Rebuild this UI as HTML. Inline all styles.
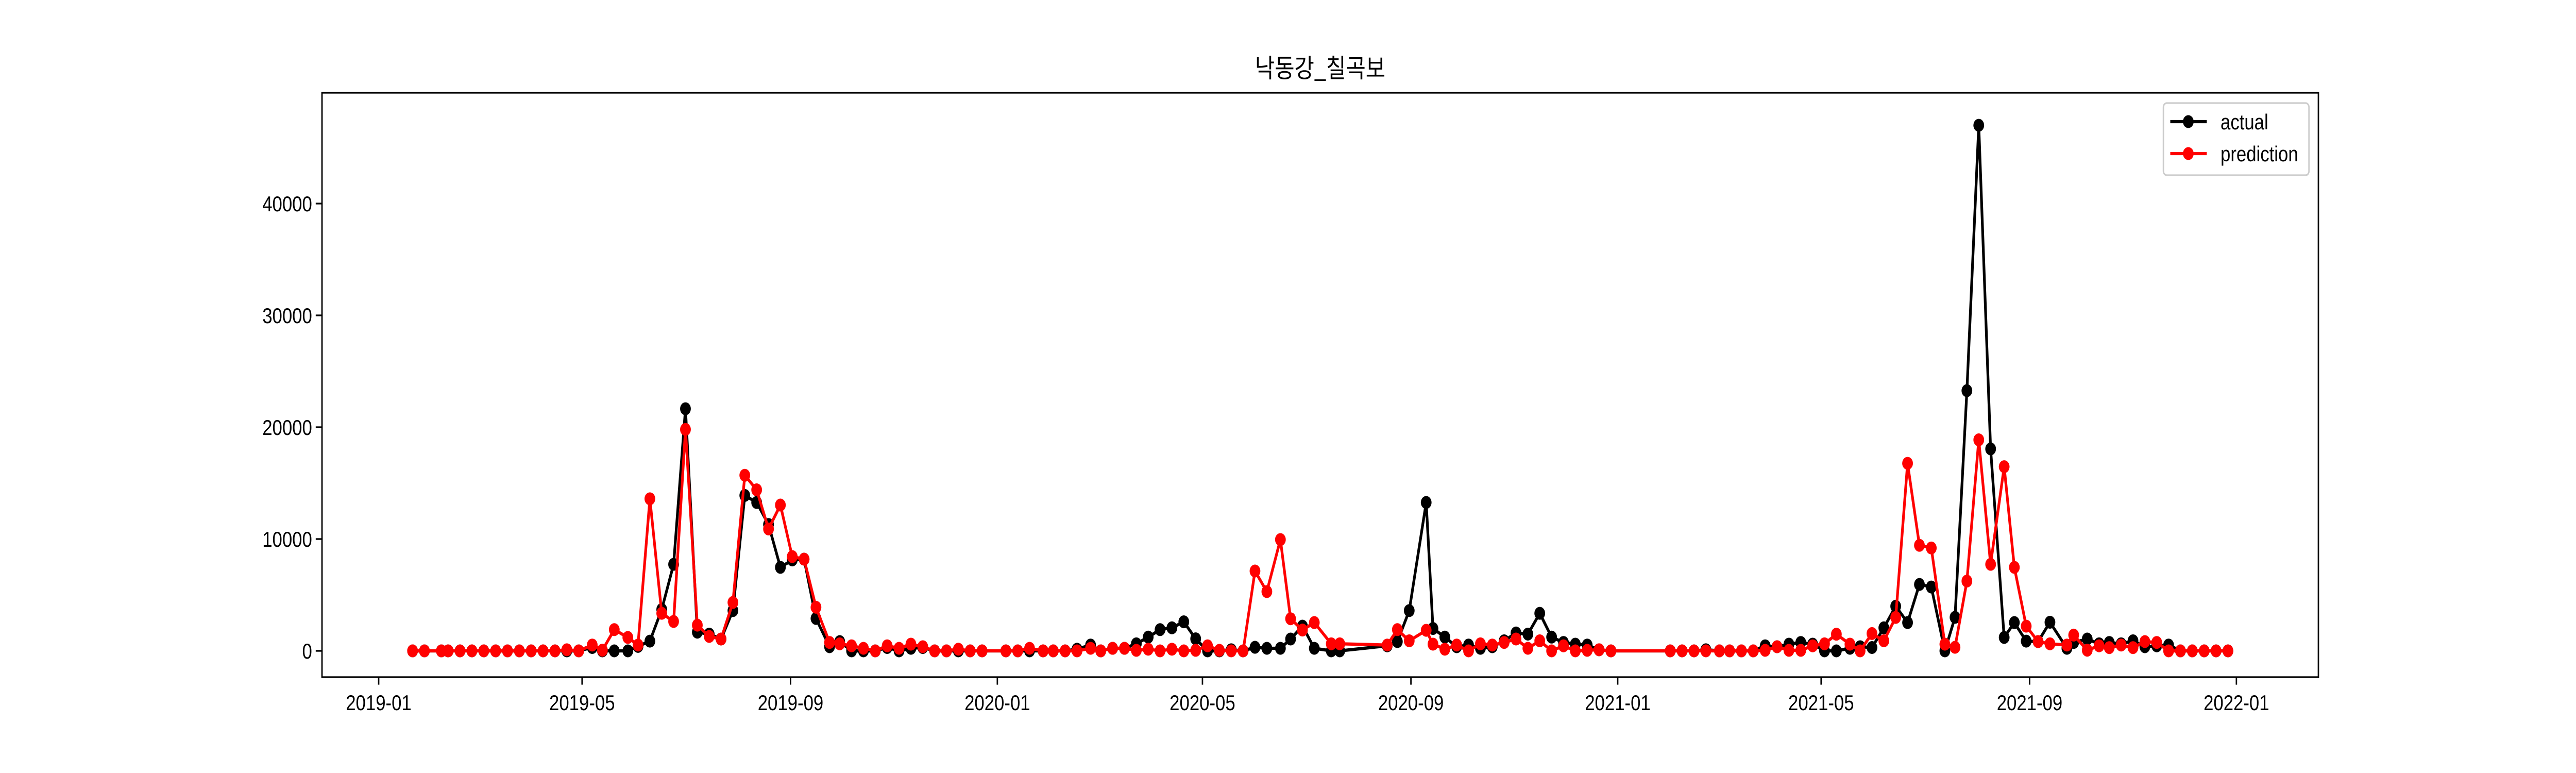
<!DOCTYPE html>
<html><head><meta charset="utf-8"><style>
html,body{margin:0;padding:0;background:#fff;width:100%;height:100%;overflow:hidden;}
svg{display:block;width:100vw;height:100vh;font-family:"Liberation Sans","Noto Sans CJK KR",sans-serif;}
</style></head><body>
<svg id="chart" viewBox="0 0 6000 1500" preserveAspectRatio="none" xmlns="http://www.w3.org/2000/svg">
<rect x="0" y="0" width="6000" height="1500" fill="#fff"/>
<text x="3075" y="150" font-size="50" text-anchor="middle" font-family="'Noto Sans CJK KR',sans-serif">낙동강_칠곡보</text>
<g id="yticks"></g>
<g id="xticks"></g>
<g id="series"></g>
<rect x="750" y="180" width="4650" height="1134" fill="none" stroke="#000" stroke-width="3.3"/>
<g>
<rect x="5039" y="200" width="339" height="140" rx="8" fill="#fff" fill-opacity="0.8" stroke="#ccc" stroke-width="3.3"/>
<g>
<line x1="5055" y1="236" x2="5140" y2="236" stroke="#000" stroke-width="6.25"/>
<circle cx="5097" cy="236" r="12.5" fill="#000"/>
<text x="5172" y="251" font-size="41.7">actual</text></g>
<g>
<line x1="5055" y1="298" x2="5140" y2="298" stroke="#f00" stroke-width="6.25"/>
<circle cx="5097" cy="298" r="12.5" fill="#f00"/>
<text x="5172" y="313" font-size="41.7">prediction</text></g>
</g>
</svg>
<script>
// days since 2019-01-01
const days = [20,27,37,41,48,55,62,69,76,83,90,97,104,111,118,126,132,139,147,153,160,167,174,181,188,195,202,209,216,223,230,237,244,251,258,266,272,279,286,293,300,307,314,321,328,335,342,349,356,370,377,384,392,398,405,412,420,426,433,440,447,454,461,468,475,482,489,496,503,510,517,524,532,538,545,552,562,567,595,601,608,618,622,629,636,643,650,657,664,671,678,685,692,699,706,713,720,727,762,769,776,783,791,797,804,811,818,825,832,839,846,853,860,868,874,881,888,895,902,909,916,924,930,937,944,951,959,965,972,979,986,996,1000,1008,1015,1021,1028,1035,1042,1049,1056,1063,1070,1077,1084,1091];
const actual = [0,0,0,0,0,0,0,0,0,0,0,0,0,0,0,300,0,0,0,400,870,3700,7740,21650,1670,1500,1060,3600,13900,13270,11300,7470,8130,8200,2900,370,830,0,0,0,300,0,230,300,0,0,0,0,0,0,0,0,0,0,0,150,520,0,230,230,630,1230,1900,2060,2600,1080,0,0,100,0,320,230,230,1060,2210,230,0,0,450,830,3600,13270,2000,1230,370,520,230,370,900,1600,1500,3360,1230,750,600,520,100,0,0,0,0,100,0,0,0,0,450,370,600,750,600,0,0,230,370,300,2060,3990,2530,5940,5710,0,3000,23270,47000,18060,1200,2530,870,830,2560,230,750,1060,630,750,630,900,370,450,520,0,0,0,0,0];
const prediction = [0,0,0,0,0,0,0,0,0,0,0,0,0,100,0,520,60,1900,1200,520,13600,3360,2630,19800,2300,1290,1060,4330,15700,14400,10900,13040,8430,8200,3900,750,630,450,230,0,450,230,600,370,0,0,150,0,0,0,0,230,0,0,0,0,230,0,230,230,50,150,0,150,0,50,450,50,0,0,7140,5300,9950,2870,1860,2530,630,630,520,1900,900,1840,600,150,520,0,630,520,750,1060,230,900,0,450,0,50,100,0,0,0,0,0,0,0,0,0,50,370,50,50,450,630,1490,600,0,1550,900,2990,16770,9440,9200,600,320,6240,18870,7740,16470,7470,2210,830,630,520,1410,60,450,290,520,290,830,750,0,0,0,0,0,0];
const yTicks = [0,10000,20000,30000,40000];
const xTickLabels = ["2019-01","2019-05","2019-09","2020-01","2020-05","2020-09","2021-01","2021-05","2021-09","2022-01"];
const xTickDays = [0,120,243,365,486,609,731,851,974,1096];

const NS="http://www.w3.org/2000/svg";
const X0=882, PXD=(5209-882)/1096;
const Y0=1263, PXV=217/10000;
function xs(d){return X0+d*PXD;}
function ys(v){return Y0-v*PXV;}
function mk(t,a,p){const e=document.createElementNS(NS,t);for(const k in a)e.setAttribute(k,a[k]);p.appendChild(e);return e;}
const yg=document.getElementById('yticks');
yTicks.forEach(v=>{
  const g=mk('g',{},yg);
  
  
  mk('line',{x1:750,x2:735.4,y1:ys(v),y2:ys(v),stroke:'#000','stroke-width':3.3},g);
  const t=mk('text',{x:727,y:ys(v)+15,'font-size':41.7,'text-anchor':'end'},g);
  t.textContent=String(v);
});
const xg=document.getElementById('xticks');
xTickLabels.forEach((l,i)=>{
  const g=mk('g',{},xg);
  
  
  const x=xs(xTickDays[i]);
  mk('line',{x1:x,x2:x,y1:1314,y2:1328.6,stroke:'#000','stroke-width':3.3},g);
  const t=mk('text',{x:x,y:1378,'font-size':41.7,'text-anchor':'middle'},g);
  t.textContent=l;
});
const sg=document.getElementById('series');
function draw(vals,color,name){
  const g=mk('g',{},sg);
  
  
  const pts=vals.map((v,i)=>xs(days[i]).toFixed(1)+','+ys(v).toFixed(1)).join(' ');
  const pl=mk('polyline',{points:pts,fill:'none',stroke:color,'stroke-width':6.25,'stroke-linejoin':'round'},g);
  
  
  vals.forEach((v,i)=>{
    const c=mk('circle',{cx:xs(days[i]),cy:ys(v),r:12.5,fill:color},g);
    
    
  });
}
draw(actual,'#000','actual');
draw(prediction,'#f00','prediction');
</script>
</body></html>
